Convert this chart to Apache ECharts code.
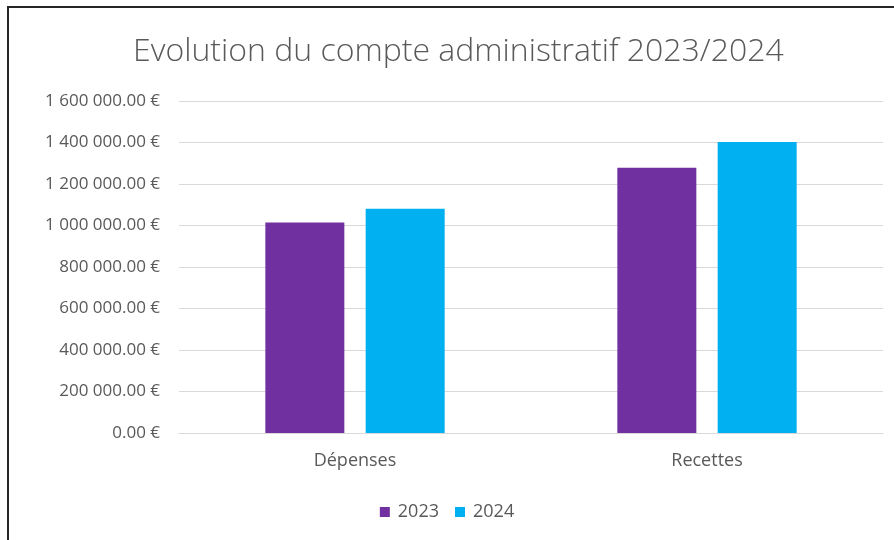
<!DOCTYPE html>
<html>
	<head>
		<meta charset="UTF-8">
		<title>Evolution du compte administratif</title>
		<style>
			html, body { margin: 0; padding: 0; background: #fff; }
			#frame { position: absolute; left: 7px; top: 6px; width: 900px; height: 560px; border: 2px solid #262626; box-sizing: border-box; }
			#graph01 { position: absolute; left: 0; top: 0; width: 894px; height: 540px; }
		</style>
	</head>
	<body>
		<div id="frame"></div>
		<div id="graph01"></div>

		<script src="https://cdn.jsdelivr.net/npm/echarts@6/dist/echarts.min.js"></script>
		<script>
			// données
			var categories = ['Dépenses', 'Recettes'];
			var years = ['2023', '2024'];
			var values2023 = [1015000, 1278000];
			var values2024 = [1081000, 1403000];
			var colors = ['#7030a0', '#00b0f0'];

			// 1600000 -> "1 600 000.00 €"
			var formatEuro = function(v) {
				var s = Math.round(v).toString().replace(/\B(?=(\d{3})+(?!\d))/g, ' ');
				return s + '.00 €';
			};

			var chart = echarts.init(document.getElementById('graph01'));
			var font = '"Open Sans", "Noto Sans", sans-serif';

			var option = {
				backgroundColor: 'transparent',
				animation: false,
				title: {
					text: 'Evolution du compte administratif 2023/2024',
					left: 128, // un peu à droite du centre, comme l'original
					top: 31,
					textStyle: {
						color: '#595959',
						fontFamily: font,
						fontWeight: 300,
						fontSize: 32
					}
				},
				legend: {
					data: years,
					bottom: 14,
					left: 'center',
					itemWidth: 10,
					itemHeight: 10,
					itemGap: 16,
					icon: 'rect',
					textStyle: { color: '#595959', fontFamily: font, fontSize: 18, padding: [0, 0, 0, 3] }
				},
				grid: {
					left: 179,
					right: 11,
					top: 101,
					bottom: 107
				},
				xAxis: {
					type: 'category',
					data: categories,
					axisLine: { lineStyle: { color: '#d9d9d9', width: 1 } },
					axisTick: { show: false },
					axisLabel: { color: '#595959', fontFamily: font, fontSize: 18, margin: 19 }
				},
				yAxis: {
					type: 'value',
					min: 0,
					max: 1600000,
					interval: 200000,
					axisLine: { show: false },
					axisTick: { show: false },
					splitLine: { lineStyle: { color: '#d9d9d9', width: 1 } },
					axisLabel: {
						color: '#595959',
						fontFamily: font,
						fontSize: 17,
						margin: 19,
						formatter: formatEuro
					}
				},
				series: [{
					name: years[0],
					type: 'bar',
					data: values2023,
					barWidth: 79,
					barGap: '27%',
					itemStyle: { color: colors[0] }
				}, {
					name: years[1],
					type: 'bar',
					data: values2024,
					barWidth: 79,
					itemStyle: { color: colors[1] }
				}]
			};
			chart.setOption(option);
			window.addEventListener('resize', function() {
				chart.resize();
			});
		</script>
	</body>
</html>
